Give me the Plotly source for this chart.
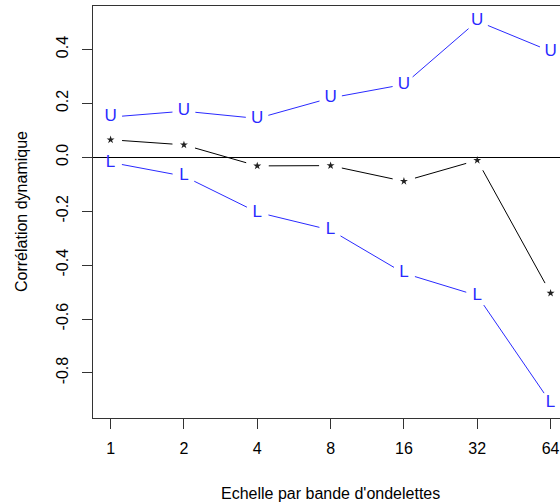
import math
import plotly.graph_objects as go

# ---- data ----
scale_labels = ["1", "2", "4", "8", "16", "32", "64"]
scale_pos = [1, 2, 3, 4, 5, 6, 7]
upper = [0.149, 0.171, 0.144, 0.220, 0.270, 0.505, 0.393]
dyn_corr = [0.065, 0.046, -0.032, -0.031, -0.089, -0.011, -0.504]
lower = [-0.019, -0.070, -0.204, -0.270, -0.430, -0.513, -0.910]
y_ticks = [-0.8, -0.6, -0.4, -0.2, 0.0, 0.2, 0.4]
y_tick_labels = ["-0.8", "-0.6", "-0.4", "-0.2", "0.0", "0.2", "0.4"]

# ---- layout geometry ----
W, H = 560, 504
ML, MR, MT, MB = 93, 0, 6, 86
PW, PH = W - ML - MR, H - MT - MB
X_RANGE = [0.76, 0.76 + PW / 73.33]
Y_RANGE = [-0.967, 0.561]
FONT = "Liberation Sans, Arial, sans-serif"
BLUE = "#2a2aff"


def gapped(xs, ys, gap_px=11.5):
    """R type='b' style: segments between points, shortened near each point."""
    sx = PW / (X_RANGE[1] - X_RANGE[0])
    sy = PH / (Y_RANGE[1] - Y_RANGE[0])
    ox, oy = [], []
    for i in range(len(xs) - 1):
        x0, y0, x1, y1 = xs[i], ys[i], xs[i + 1], ys[i + 1]
        d = math.hypot((x1 - x0) * sx, (y1 - y0) * sy)
        f = gap_px / d
        ox += [x0 + (x1 - x0) * f, x1 - (x1 - x0) * f, None]
        oy += [y0 + (y1 - y0) * f, y1 - (y1 - y0) * f, None]
    return ox, oy


fig = go.Figure()

for ys, col in [(upper, BLUE), (dyn_corr, "black"), (lower, BLUE)]:
    gx, gy = gapped(scale_pos, ys)
    fig.add_trace(go.Scatter(x=gx, y=gy, mode="lines",
                             line=dict(color=col, width=1),
                             hoverinfo="skip", showlegend=False))

fig.add_trace(go.Scatter(x=scale_pos, y=upper, mode="text", text=["U"] * len(upper),
                         textposition="middle center",
                         textfont=dict(family=FONT, size=17, color=BLUE),
                         showlegend=False))
fig.add_trace(go.Scatter(x=scale_pos, y=lower, mode="text", text=["L"] * len(lower),
                         textposition="middle center",
                         textfont=dict(family=FONT, size=17, color=BLUE),
                         showlegend=False))
fig.add_trace(go.Scatter(x=scale_pos, y=dyn_corr, mode="markers",
                         marker=dict(symbol="star", size=6, color="#222222",
                                     line=dict(width=0)),
                         showlegend=False))

fig.update_layout(
    width=W, height=H,
    margin=dict(l=ML, r=MR, t=MT, b=MB),
    plot_bgcolor="white", paper_bgcolor="white",
    font=dict(family=FONT, size=16, color="black"),
    xaxis=dict(range=X_RANGE, tickvals=scale_pos, ticktext=scale_labels,
               automargin=False,
               showgrid=False, zeroline=False, showline=True, linecolor="#333333",
               linewidth=1, mirror=True, ticks="outside", ticklen=10,
               tickcolor="#333333", tickfont=dict(size=16, color="black"),
               ticklabelstandoff=6),
    yaxis=dict(range=Y_RANGE, tickvals=y_ticks, ticktext=y_tick_labels,
               automargin=False,
               showgrid=False, zeroline=True, zerolinecolor="black", zerolinewidth=1,
               showline=True, linecolor="#333333", linewidth=1, mirror=False,
               ticks="outside", ticklen=10, tickcolor="#333333", tickangle=-90,
               tickfont=dict(size=16, color="black"), ticklabelstandoff=8),
    annotations=[
        dict(text="Echelle par bande d'ondelettes", xref="x", yref="paper",
             x=4, y=0, yshift=-75, xanchor="center", yanchor="middle",
             showarrow=False, font=dict(size=16, color="black")),
        dict(text="Corrélation dynamique", xref="paper", yref="paper",
             x=0, y=0.5, xshift=-72, xanchor="center", yanchor="middle",
             textangle=-90, showarrow=False, font=dict(size=16, color="black")),
    ],
)

fig.write_html("out.html", config={"displayModeBar": False},
               post_script="document.body.style.margin='0';")
